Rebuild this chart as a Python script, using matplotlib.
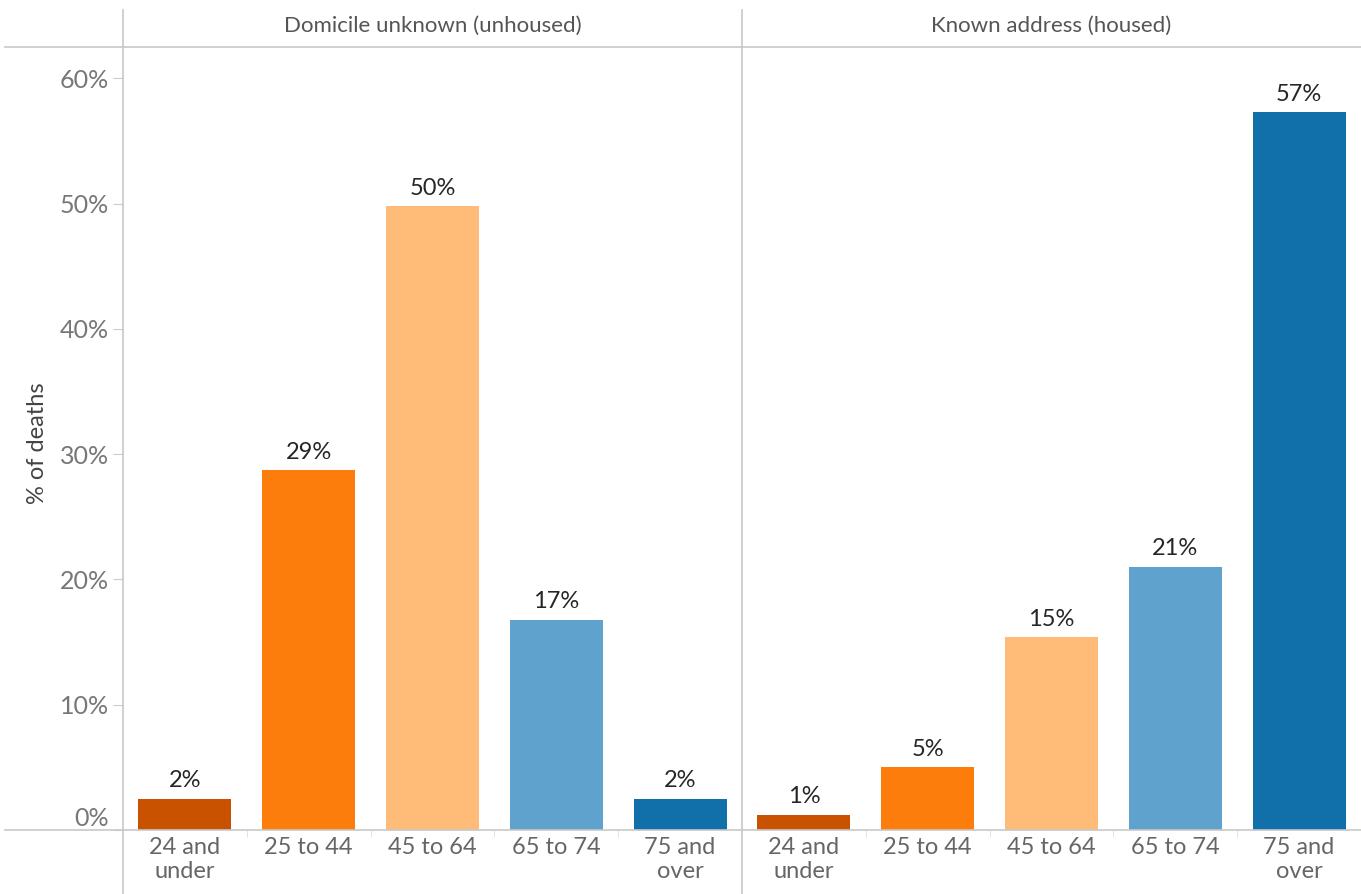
import matplotlib
matplotlib.use("Agg")
import matplotlib.pyplot as plt
from matplotlib.lines import Line2D

plt.rcParams['font.family'] = ['Lato', 'DejaVu Sans']

# data
groups = ['Domicile unknown (unhoused)', 'Known address (housed)']
ages = ['24 and\nunder', '25 to 44', '45 to 64', '65 to 74', '75 and\nover']
unhoused = [2.5, 28.7, 49.8, 16.8, 2.5]
housed = [1.2, 5.0, 15.4, 21.0, 57.3]
unhoused_lbl = ['2%', '29%', '50%', '17%', '2%']
housed_lbl = ['1%', '5%', '15%', '21%', '57%']
colors = ['#c85200', '#fc7d0b', '#ffbc79', '#5fa2ce', '#1170aa']

W, H = 1361, 894
fig = plt.figure(figsize=(W/100, H/100), dpi=100)

def px(x0, y0, x1, y1):
    return [x0/W, 1-y1/H, (x1-x0)/W, (y1-y0)/H]

ax1 = fig.add_axes(px(123, 47, 742, 830))
ax2 = fig.add_axes(px(742, 47, 1361, 830), sharey=ax1)

for ax, vals, lbls, title in [(ax1, unhoused, unhoused_lbl, groups[0]), (ax2, housed, housed_lbl, groups[1])]:
    x = range(len(ages))
    ax.bar(x, vals, width=0.75, color=colors)
    for i, v in enumerate(vals):
        ax.text(i, v + 0.6, lbls[i], ha='center', va='bottom', fontsize=17, color='#262626')
    ax.set_xlim(-0.5, 4.5)
    ax.set_ylim(0, 62.5)
    ax.set_xticks(list(x))
    ax.set_xticklabels(ages, fontsize=17, color='#666666', linespacing=1.2)
    ax.tick_params(axis='x', length=0, pad=5)
    ax.set_xticks([0.5, 1.5, 2.5, 3.5], minor=True)
    ax.tick_params(axis='x', which='minor', length=5, color='#dddddd')
    for s in ax.spines.values():
        s.set_visible(False)
    ax.text(0.5, 1.0 + 21/783, title, transform=ax.transAxes, ha='center', va='center',
            fontsize=16, color='#555555')

ax1.set_yticks([0, 10, 20, 30, 40, 50, 60])
ax1.set_yticklabels(['0%', '10%', '20%', '30%', '40%', '50%', '60%'], fontsize=18, color='#777777')
ax1.tick_params(axis='y', length=7, color='#cccccc', pad=3)
ax1.get_yticklabels()[0].set_va('bottom')
ax2.tick_params(axis='y', left=False, labelleft=False)
fig.text(37/W, 1-443/H, '% of deaths', rotation=90, ha='center', va='center',
         fontsize=17, color='#444444')

# frame lines
lc = '#c8c8c8'
fig.add_artist(Line2D([5/W, 1], [1-47/H]*2, color=lc, lw=1.2))
fig.add_artist(Line2D([5/W, 1], [1-830/H]*2, color=lc, lw=1.2))
fig.add_artist(Line2D([123/W]*2, [0, 1-10/H], color=lc, lw=1.2))
fig.add_artist(Line2D([742/W]*2, [0, 1-10/H], color=lc, lw=1.2))

fig.savefig('out.png', dpi=100)
